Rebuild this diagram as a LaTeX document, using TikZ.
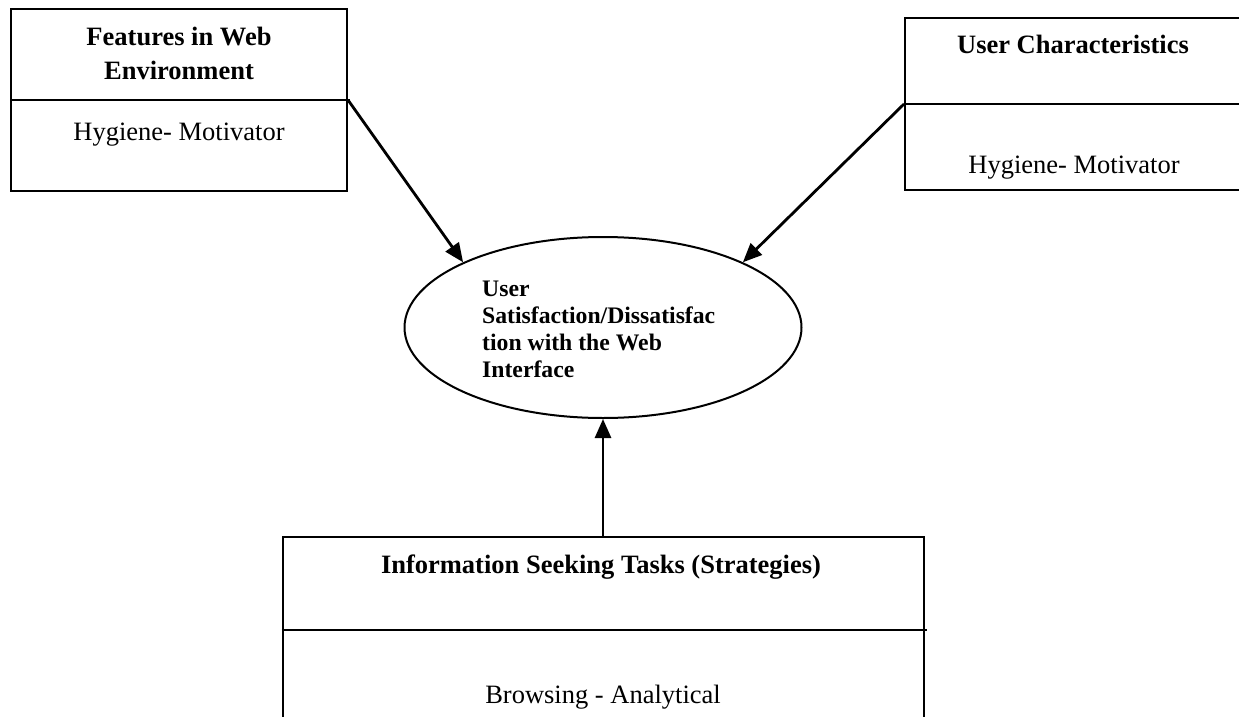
\documentclass[tikz,border=0pt]{standalone}
\usepackage{fontspec}
\setmainfont{Liberation Serif}
\usetikzlibrary{arrows.meta,shapes.geometric}

\begin{document}
\begin{tikzpicture}[x=1pt,y=-1pt,
  frame/.style={draw,line width=2pt,inner sep=0pt},
  split/.style={line width=2pt},
  link/.style={line width=2.8pt,-{Triangle[length=19pt,width=16pt]}},
  head/.style={font=\fontsize{26.5}{35}\selectfont\bfseries,inner sep=0pt,anchor=base,align=center},
  plain/.style={font=\fontsize{26.5}{35}\selectfont,inner sep=0pt,anchor=base},
]
\useasboundingbox (0,0) rectangle (1239,717);
\clip (0,0) rectangle (1239,717);

% boxes
\node[frame,minimum width=336pt,minimum height=182pt] (feat) at (179,100) {};
\node[frame,minimum width=340pt,minimum height=172pt] (user) at (1075,104) {};
\node[frame,minimum width=641pt,minimum height=186pt] (tasks) at (603,630) {};

% dividers
\draw[split] (feat.west) -- ([xshift=2pt]feat.east);
\draw[split] (user.west) -- (user.east);
\draw[split] (tasks.west) -- ([xshift=2pt]tasks.east);

% box texts (base anchor of a two-line node sits on its last line)
\node[head] (feath) at (179,80) {Features in Web\\Environment};
\node[plain] (featm) at (179,140) {Hygiene- Motivator};
\node[head] (userh) at (1073,53) {User Characteristics};
\node[plain] (userm) at (1074,173) {Hygiene- Motivator};
\node[head] (tasksh) at (601,573) {Information Seeking Tasks (Strategies)};
\node[plain] (tasksm) at (603,703) {Browsing - Analytical};

% central ellipse
\node[ellipse,draw,line width=2pt,minimum width=397pt,minimum height=181pt,inner sep=0pt] (sat) at (603,327.5) {};
\node[font=\fontsize{23.7}{26.7}\selectfont\bfseries,align=left,anchor=base west,inner sep=0pt] (satlbl) at (482,377)
  {User\\Satisfaction/Dissatisfac\\tion with the Web\\Interface};

% connectors
\draw[link] (feat.east) -- (sat.155.3);
\draw[link] (user.west) -- (sat.25.2);
\draw[link] (tasks.north) -- (sat.south);
\end{tikzpicture}
\end{document}
